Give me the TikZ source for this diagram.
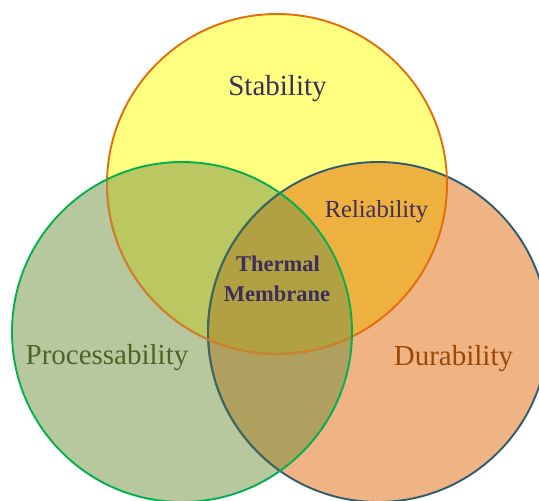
\documentclass[tikz,border=0pt]{standalone}
\usepackage{fontspec}
\setmainfont{Liberation Serif}
\usepackage{xcolor}
\usepackage{tikz}
\definecolor{stabfill}{RGB}{255,255,128}
\definecolor{procfill}{RGB}{184,200,158}
\definecolor{durafill}{RGB}{240,179,131}
\definecolor{spfill}{RGB}{187,199,96}
\definecolor{sdfill}{RGB}{238,177,64}
\definecolor{pdfill}{RGB}{176,160,96}
\definecolor{corefill}{RGB}{178,161,66}
\definecolor{stabline}{RGB}{228,108,10}
\definecolor{stabdim}{RGB}{200,130,50}
\definecolor{procline}{RGB}{0,176,80}
\definecolor{duraline}{RGB}{46,92,110}
\definecolor{duradim}{RGB}{62,104,94}
\definecolor{ink}{RGB}{60,45,90}
\definecolor{procink}{RGB}{79,98,40}
\definecolor{duraink}{RGB}{152,72,7}

\begin{document}
\begin{tikzpicture}[x=1pt,y=1pt,
		ring/.style={line width=1.9pt},
		lbl/.style={inner sep=0pt,anchor=base,font=\fontsize{29}{34}\selectfont},
		core/.style={inner sep=0pt,anchor=base,text=ink,font=\fontsize{22.5}{28}\selectfont\bfseries}]
			\useasboundingbox (0,0) rectangle (539,501);
			\clip (0,0) rectangle (539,501);
			
			\coordinate (S) at (277,317);
			\coordinate (P) at (182,169);
			\coordinate (D) at (378,169);
			\def\rad{170}
			
			\fill[stabfill] (S) circle (\rad);
			\fill[procfill] (P) circle (\rad);
			\fill[durafill] (D) circle (\rad);
			
			\begin{scope}
				\clip (S) circle (\rad);
				\fill[spfill] (P) circle (\rad);
				\fill[sdfill] (D) circle (\rad);
			\end{scope}
			\begin{scope}
				\clip (P) circle (\rad);
				\fill[pdfill] (D) circle (\rad);
				\clip (S) circle (\rad);
				\fill[corefill] (D) circle (\rad);
			\end{scope}
			
			\draw[ring,duraline] (D) circle (\rad);
			\draw[ring,stabline] (S) circle (\rad);
			\begin{scope}
				\clip (P) circle (\rad);
				\draw[ring,duradim] (D) circle (\rad);
				\draw[ring,stabdim] (S) circle (\rad);
			\end{scope}
			\draw[ring,procline] (P) circle (\rad);
			
			\node[lbl,text=ink] (stab) at (277.5,405) {Stability};
			\node[lbl,text=ink,font=\fontsize{24.5}{30}\selectfont] (rel) at (376.5,283) {Reliability};
			\node[core] (therm) at (278,229) {Thermal};
			\node[core] (memb) at (277,199) {Membrane};
			\node[lbl,text=procink] (proc) at (107,136) {Processability};
			\node[lbl,text=duraink] (dura) at (453.5,135) {Durability};
			
		\end{tikzpicture}
\end{document}
